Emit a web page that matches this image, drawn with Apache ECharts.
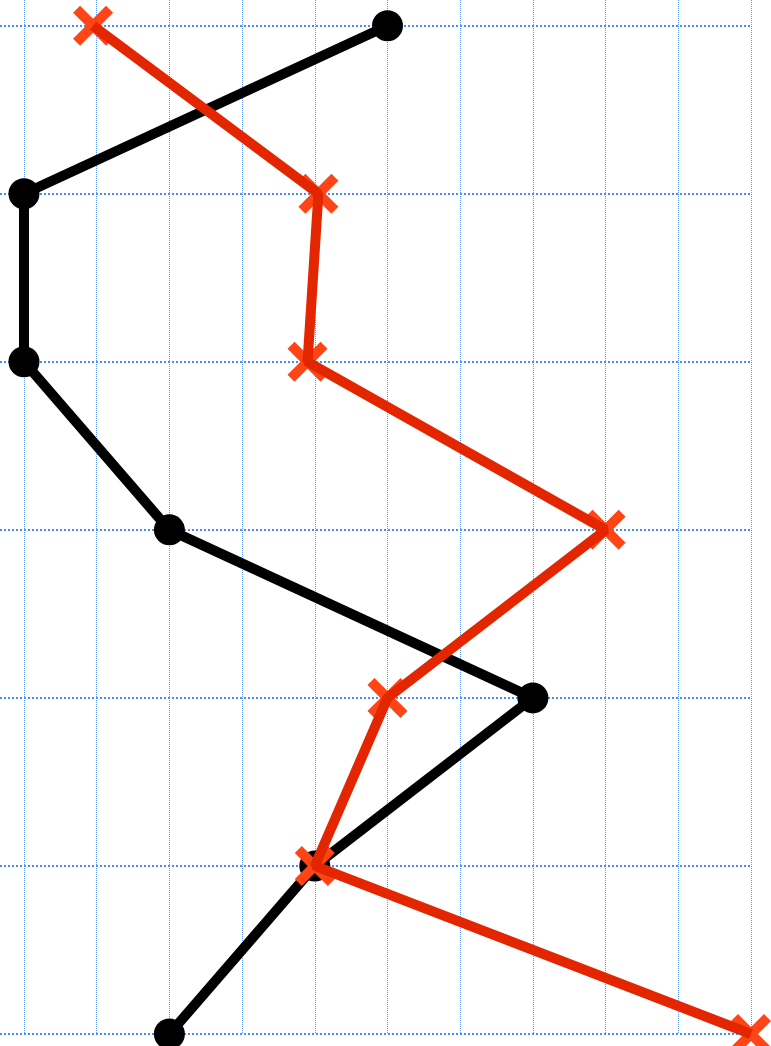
<!DOCTYPE html>
<html>
<head>
<meta charset="utf-8">
<style>
  html, body { margin: 0; padding: 0; background: #ffffff; }
  #chart { width: 771px; height: 1046px; }
</style>
<script src="https://cdn.jsdelivr.net/npm/echarts@6/dist/echarts.min.js"></script>
</head>
<body>
<div id="chart"></div>
<script>
// Row positions (top to bottom)
var rows = [0, 1, 2, 3, 4, 5, 6];
// Black series values (x per row)
var blackValues = [5, 0, 0, 2, 7, 4, 2];
// Red series values (x per row)
var redValues = [0.95, 4.05, 3.9, 8, 5, 4, 10];

function pairs(vals) {
  return vals.map(function (v, i) { return [v, rows[i]]; });
}

var crossPath = 'path://M0,7 L7,0 L20,13 L33,0 L40,7 L27,20 L40,33 L33,40 L20,27 L7,40 L0,33 L13,20 Z';

var chart = echarts.init(document.getElementById('chart'), null, { renderer: 'canvas' });
chart.setOption({
  animation: false,
  backgroundColor: '#ffffff',
  grid: { left: 0, right: 20, top: 0, bottom: 12, containLabel: false },
  xAxis: {
    type: 'value',
    min: -0.33,
    max: 10,
    splitNumber: 10,
    minInterval: 1,
    maxInterval: 1,
    axisLine: { show: false },
    axisTick: { show: false },
    axisLabel: { show: false },
    splitLine: {
      show: true,
      showMinLine: false,
      lineStyle: { color: '#5b9bf5', width: 1, type: [1, 1] }
    }
  },
  yAxis: {
    type: 'value',
    inverse: true,
    min: -0.153,
    max: 6,
    splitNumber: 6,
    minInterval: 1,
    maxInterval: 1,
    axisLine: { show: false },
    axisTick: { show: false },
    axisLabel: { show: false },
    splitLine: {
      show: true,
      showMinLine: false,
      lineStyle: { color: '#4a8cf5', width: 2, type: [2, 2] }
    }
  },
  series: [
    {
      name: 'black',
      type: 'line',
      data: pairs(blackValues),
      clip: false,
      symbol: 'circle',
      symbolSize: 31,
      showAllSymbol: true,
      lineStyle: { color: '#000000', width: 10 },
      itemStyle: { color: '#000000' },
      z: 2
    },
    {
      name: 'redMarkers',
      type: 'scatter',
      data: pairs(redValues),
      clip: false,
      symbol: crossPath,
      symbolSize: 40,
      itemStyle: { color: '#ff4515', opacity: 1 },
      z: 3
    },
    {
      name: 'red',
      type: 'line',
      data: pairs(redValues),
      clip: false,
      showSymbol: false,
      lineStyle: { color: '#e32600', width: 10 },
      z: 4
    }
  ]
});
</script>
</body>
</html>
